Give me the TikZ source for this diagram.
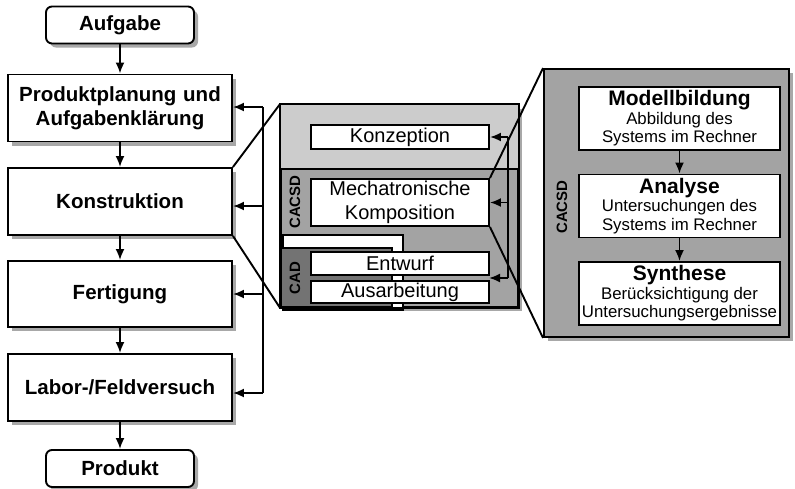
\documentclass[tikz,border=0pt]{standalone}
\usepackage{fontspec}
\setmainfont{Liberation Sans}
\usetikzlibrary{positioning,arrows.meta,shadows}
\definecolor{hellgrau}{gray}{0.80}
\definecolor{mittelgrau}{gray}{0.64}
\definecolor{dunkelgrau}{gray}{0.45}
\definecolor{schattengrau}{gray}{0.66}

\begin{document}
\begin{tikzpicture}[x=1pt,y=-1pt,line width=1.9pt,
  schatten/.style={drop shadow={shadow xshift=4pt,shadow yshift=-4pt,fill=schattengrau,opacity=1}},
  schritt/.style={draw,fill=white,schatten,minimum width=224pt,text width=216pt,align=center,
    font=\fontsize{20.5}{24}\bfseries\selectfont},
  ende/.style={draw,fill=white,schatten,rounded corners=6pt,minimum width=148pt,minimum height=37pt,
    font=\fontsize{20.5}{24}\bfseries\selectfont},
  fach/.style={draw,fill=white,minimum width=178pt,inner sep=0pt,align=center,
    font=\fontsize{20}{24}\selectfont},
  sys/.style={draw,fill=white,minimum width=201pt,minimum height=63pt,inner sep=1pt,align=center,
    font=\fontsize{16.8}{18.5}\selectfont},
  seite/.style={rotate=90,inner sep=0pt,font=\fontsize{15}{15}\bfseries\selectfont},
  pfeil/.style={-{Latex[length=11pt,width=9pt]}}]
\useasboundingbox (0,0) rectangle (795,488);
% Ablauf links
\node[ende] (aufgabe) at (120,25) {Aufgabe};
\node[schritt,minimum height=67pt] (planung) at (120,108) {Produktplanung und\\Aufgabenklärung};
\node[schritt,minimum height=67pt] (konstruktion) at (120,201.5) {Konstruktion};
\node[schritt,minimum height=66pt] (fertigung) at (120,294) {Fertigung};
\node[schritt,minimum height=67pt] (versuch) at (120,387.5) {Labor-/Feldversuch};
\node[ende] (produkt) at (120,468.5) {Produkt};
\draw[pfeil] (aufgabe.south) -- (planung.north);
\draw[pfeil] (planung.south) -- (konstruktion.north);
\draw[pfeil] (konstruktion.south) -- (fertigung.north);
\draw[pfeil] (fertigung.south) -- (versuch.north);
\draw[pfeil] (versuch.south) -- (produkt.north);
% Rueckfuehrung links
\coordinate (rueck) at (263,107);
\coordinate (kpfeil) at ([yshift=-4.5pt]konstruktion.east);
\coordinate (vpfeil) at ([yshift=-5.5pt]versuch.east);
\draw (rueck) -- (rueck |- vpfeil);
\draw[pfeil] (rueck) -- (rueck -| planung.east);
\draw[pfeil] (rueck |- kpfeil) -- (kpfeil);
\draw[pfeil] (rueck |- fertigung.east) -- (fertigung.east);
\draw[pfeil] (rueck |- vpfeil) -- (vpfeil);
% Konstruktion im Detail
\node[draw,fill=mittelgrau,schatten,minimum width=237pt,minimum height=202pt] (mitte) at (399.5,206) {};
\fill[hellgrau] (mitte.north west) rectangle (518,169);
\draw (281,169) -- (518,169);
\draw[fill=white] (283,235) rectangle (403,310);
\draw[fill=dunkelgrau] (281,248) rectangle (392,307);
\draw (mitte.north west) rectangle (mitte.south east);
\node[fach,minimum height=24pt] (konzeption) at (400,137) {Konzeption};
\node[fach,minimum height=47pt] (mechatronik) at (400,202.5) {Mechatronische\\Komposition};
\node[fach,minimum height=23pt] (entwurf) at (400,263.5) {Entwurf};
\node[fach,minimum height=22pt] (ausarbeitung) at (400,292) {Ausarbeitung};
\node[seite] (cacsd) at (295,202) {CACSD};
\node[seite] (cad) at (295,278) {CAD};
% Rueckfuehrung Mitte
\coordinate (iback) at (508,137);
\coordinate (ea) at (489,278);
\draw (iback) -- (iback |- ea);
\draw[pfeil] (iback) -- (konzeption.east);
\draw[pfeil] (iback |- mechatronik.east) -- (mechatronik.east);
\draw[pfeil] (iback |- ea) -- (ea);
% Mechatronische Komposition im Detail
\node[draw,fill=mittelgrau,schatten,minimum width=245pt,minimum height=268pt] (rechts) at (666.5,203) {};
\node[sys] (modell) at (679.5,118.5) {{\fontsize{21}{24}\bfseries\selectfont Modellbildung}\\Abbildung des\\Systems im Rechner};
\node[sys] (analyse) at (679.5,206) {{\fontsize{21}{24}\bfseries\selectfont Analyse}\\Untersuchungen des\\Systems im Rechner};
\node[sys] (synthese) at (679.5,293.5) {{\fontsize{21}{24}\bfseries\selectfont Synthese}\\Berücksichtigung der\\Untersuchungsergebnisse};
\node[seite] (cacsdr) at (562,207) {CACSD};
\draw[pfeil] (modell) -- (analyse);
\draw[pfeil] (analyse) -- (synthese);
% Lupenlinien
\draw (konstruktion.north east) -- (mitte.north west);
\draw (konstruktion.south east) -- (mitte.south west);
\draw (mechatronik.north east) -- (rechts.north west);
\draw (mechatronik.south east) -- (rechts.south west);
\end{tikzpicture}
\end{document}
